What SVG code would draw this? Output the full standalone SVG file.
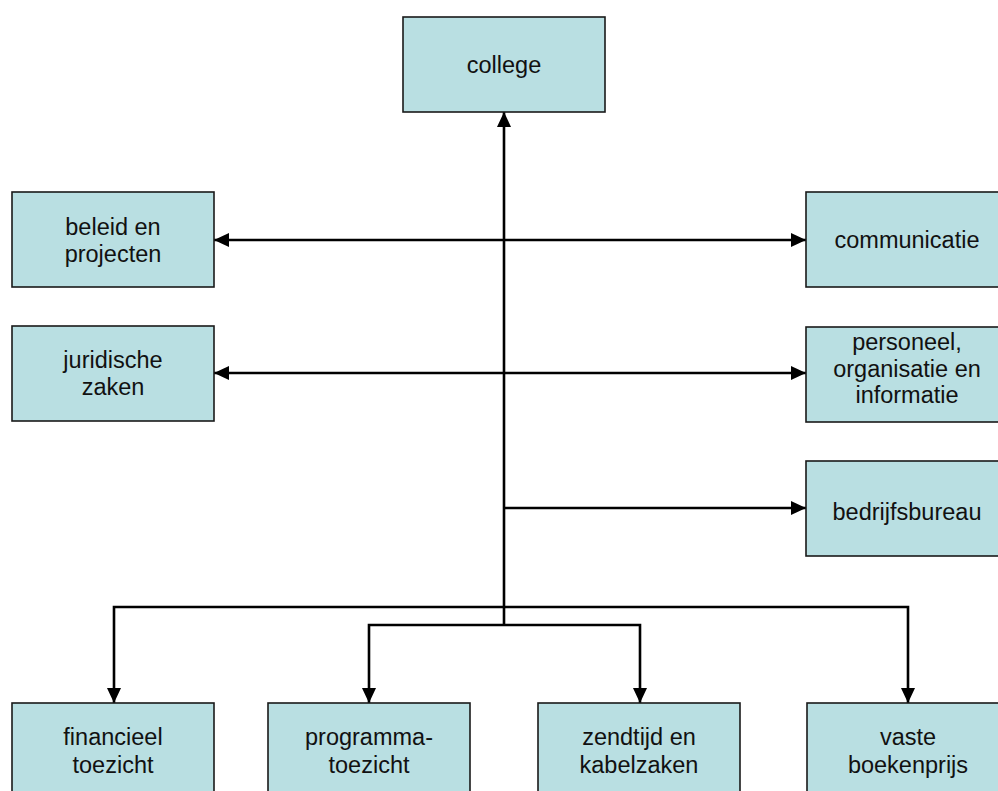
<svg xmlns="http://www.w3.org/2000/svg" width="998" height="791" viewBox="0 0 998 791">
<defs>
<style>
.box{fill:#B9DFE2;stroke:#1a1a1a;stroke-width:1.6}
.t{font-family:"Liberation Sans",Arial,sans-serif;font-size:23.5px;fill:#111;text-anchor:middle}
.c{fill:none;stroke:#000;stroke-width:2.6}
</style>
<marker id="ah" markerUnits="userSpaceOnUse" markerWidth="16" markerHeight="15" refX="15" refY="7" orient="auto-start-reverse" viewBox="0 0 16 14">
<path d="M0,0 L15,7 L0,14 z" fill="#000"/>
</marker>
</defs>
<rect width="998" height="791" fill="#fff"/>
<g id="connectors">
<line class="c" x1="504" y1="625" x2="504" y2="112" marker-end="url(#ah)"/>
<line class="c" x1="214" y1="240" x2="806" y2="240" marker-start="url(#ah)" marker-end="url(#ah)"/>
<line class="c" x1="214" y1="373" x2="806" y2="373" marker-start="url(#ah)" marker-end="url(#ah)"/>
<line class="c" x1="504" y1="508" x2="806" y2="508" marker-end="url(#ah)"/>
<path class="c" d="M114,703 V607 H908 V703" marker-start="url(#ah)" marker-end="url(#ah)"/>
<path class="c" d="M369,703 V625 H640 V703" marker-start="url(#ah)" marker-end="url(#ah)"/>
</g>
<g id="college"><rect class="box" x="403" y="17" width="202" height="95"/><text class="t" x="504" y="73">college</text></g>
<g id="beleid"><rect class="box" x="12" y="192" width="202" height="95"/><text class="t" x="113" y="235">beleid en</text><text class="t" x="113" y="262">projecten</text></g>
<g id="juridische"><rect class="box" x="12" y="326" width="202" height="95"/><text class="t" x="113" y="368">juridische</text><text class="t" x="113" y="395">zaken</text></g>
<g id="communicatie"><rect class="box" x="806" y="192" width="202" height="95"/><text class="t" x="907" y="248">communicatie</text></g>
<g id="personeel"><rect class="box" x="806" y="327" width="202" height="95"/><text class="t" x="907" y="350">personeel,</text><text class="t" x="907" y="377">organisatie en</text><text class="t" x="907" y="403">informatie</text></g>
<g id="bedrijfsbureau"><rect class="box" x="806" y="461" width="202" height="95"/><text class="t" x="907" y="520">bedrijfsbureau</text></g>
<g id="financieel"><rect class="box" x="12" y="703" width="202" height="95"/><text class="t" x="113" y="745">financieel</text><text class="t" x="113" y="773">toezicht</text></g>
<g id="programma"><rect class="box" x="268" y="703" width="202" height="95"/><text class="t" x="369" y="745">programma-</text><text class="t" x="369" y="773">toezicht</text></g>
<g id="zendtijd"><rect class="box" x="538" y="703" width="202" height="95"/><text class="t" x="639" y="745">zendtijd en</text><text class="t" x="639" y="773">kabelzaken</text></g>
<g id="vaste"><rect class="box" x="807" y="703" width="202" height="95"/><text class="t" x="908" y="745">vaste</text><text class="t" x="908" y="773">boekenprijs</text></g>
</svg>
